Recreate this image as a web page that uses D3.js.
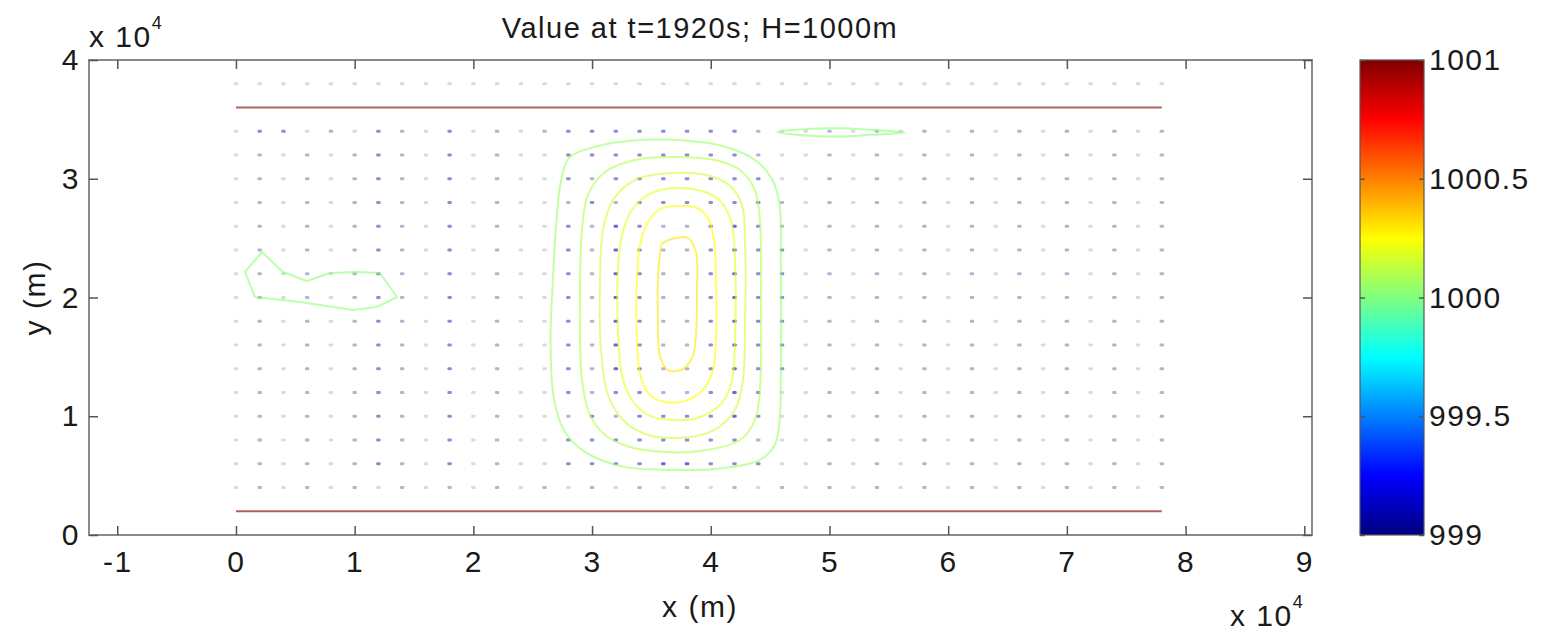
<!DOCTYPE html>
<html>
<head>
<meta charset="utf-8">
<script src="https://cdn.jsdelivr.net/npm/d3@7"></script>
<style>
  body { margin: 0; background: #fff; }
  svg { display: block; }
  text { font-family: "Liberation Sans", Arial, Helvetica, sans-serif; fill: #1a1a1a; letter-spacing: 1.5px; }
</style>
</head>
<body>
<svg id="chart" width="1542" height="632"></svg>
<script>
// ---------- data (lengths in units of 10^4 m) ----------
const titleText = "Value at t=1920s; H=1000m";
const xTicks = [-1, 0, 1, 2, 3, 4, 5, 6, 7, 8, 9];
const yTicks = [0, 1, 2, 3, 4];
const xDomain = [-1.238, 9.065];
const yDomain = [0, 4];

// colour scale (jet) and colourbar ticks
const colorTicks = [999, 999.5, 1000, 1000.5, 1001];
const jetValues = [999, 999.25, 999.75, 1000.25, 1000.75, 1001];
const jetColors = ["#00007f", "#0000ff", "#00ffff", "#ffff00", "#ff0000", "#7f0000"];

// velocity sample points
const gridX = [0, 0.2, 0.4, 0.6, 0.8, 1.0, 1.2, 1.4, 1.6, 1.8, 2.0, 2.2, 2.4, 2.6, 2.8, 3.0, 3.2, 3.4, 3.6, 3.8,
               4.0, 4.2, 4.4, 4.6, 4.8, 5.0, 5.2, 5.4, 5.6, 5.8, 6.0, 6.2, 6.4, 6.6, 6.8, 7.0, 7.2, 7.4, 7.6, 7.8];
const gridY = [3.8, 3.4, 3.2, 3.0, 2.8, 2.6, 2.4, 2.2, 2.0, 1.8, 1.6, 1.4, 1.2, 1.0, 0.8, 0.6, 0.4];
// arrow strength per row (one digit per gridX column, 0 = none .. 4 = strongest)
const arrowLevels = [
  "1111111111111111111111111111111111111111",
  "1331213213121233333333211212121212121212",
  "1212123213121133333333211212121212121212",
  "1212123213121132333333311212121212121212",
  "1212123213121123233333321212121212121212",
  "1212123213121132432234321212121212121212",
  "1212123213121132432234331212121212121212",
  "1212123213121132432234331212121212121212",
  "1212123213121132432234331212121212121212",
  "1212123213121132432234331212121212121212",
  "1212123213121132432234331212121212121212",
  "1212123213121132432234331212121212121212",
  "1212123213121132332234311212121212121212",
  "1212123213121123233334311212121212121212",
  "1212123213121133333333211212121212121212",
  "1212123213121133334433311212121212121212",
  "1212121212121212121212121212121212121212"
];
const arrowColors = ["none", "#d9d9e6", "#b4b4d6", "#8d8dd2", "#6868d2"];

// channel walls
const wallY = [0.2, 3.6];
const wallX = [0, 7.8];
const wallLevel = 1001;

// contour lines: level and closed outline
const contourLevels = [1000.05, 1000.1, 1000.15, 1000.2, 1000.25, 1000.3, 1000.02, 1000.02];
const contourRings = [
  [[3.61,3.33],[4.08,3.28],[4.37,3.16],[4.52,2.99],[4.58,2.78],[4.59,2.32],[4.59,1.31],[4.58,0.97],[4.54,0.76],
   [4.41,0.63],[4.08,0.56],[3.59,0.55],[3.24,0.58],[2.94,0.70],[2.77,0.87],[2.68,1.14],[2.65,1.64],[2.67,2.15],
   [2.70,2.65],[2.74,2.99],[2.81,3.18],[3.07,3.28],[3.32,3.32]],
  [[3.656,3.183],[4.035,3.158],[4.246,3.074],[4.372,2.905],[4.414,2.653],[4.423,1.979],[4.414,1.221],[4.372,0.968],
   [4.246,0.800],[3.909,0.707],[3.614,0.699],[3.319,0.741],[3.109,0.842],[2.982,1.011],[2.915,1.305],[2.898,1.979],
   [2.915,2.568],[2.965,2.863],[3.109,3.057],[3.361,3.158]],
  [[3.673,3.048],[3.993,3.023],[4.162,2.939],[4.263,2.779],[4.288,2.484],[4.288,1.726],[4.271,1.305],[4.204,1.053],
   [4.027,0.884],[3.724,0.817],[3.446,0.851],[3.260,0.968],[3.134,1.179],[3.075,1.558],[3.067,2.147],[3.092,2.568],
   [3.176,2.821],[3.361,2.989]],
  [[3.698,2.922],[3.951,2.888],[4.094,2.796],[4.179,2.611],[4.204,2.316],[4.204,1.642],[4.179,1.305],[4.094,1.112],
   [3.909,0.994],[3.673,0.968],[3.471,1.011],[3.336,1.137],[3.252,1.347],[3.218,1.726],[3.218,2.232],[3.252,2.526],
   [3.336,2.737],[3.488,2.872]],
  [[3.698,2.771],[3.884,2.754],[3.976,2.669],[4.027,2.484],[4.044,2.147],[4.044,1.642],[4.019,1.389],[3.934,1.221],
   [3.783,1.128],[3.614,1.120],[3.488,1.179],[3.412,1.322],[3.378,1.642],[3.378,2.147],[3.404,2.442],[3.471,2.636],
   [3.572,2.745]],
  [[3.589,2.451],[3.673,2.493],[3.808,2.501],[3.875,2.383],[3.884,2.063],[3.875,1.684],[3.842,1.491],[3.766,1.398],
   [3.639,1.389],[3.572,1.507],[3.555,1.811],[3.555,2.147],[3.572,2.358]],
  [[4.56,3.394],[4.75,3.415],[5.09,3.425],[5.34,3.412],[5.64,3.390],[5.34,3.370],[5.09,3.355],[4.75,3.368]],
  [[0.219,2.383],[0.076,2.215],[0.160,2.004],[0.539,1.962],[0.986,1.895],[1.188,1.920],[1.356,2.004],[1.213,2.206],
   [1.019,2.215],[0.792,2.206],[0.598,2.139],[0.396,2.215]]
];
const contourSmooth = [true, true, true, true, true, true, true, false];

// ---------- layout ----------
const svg = d3.select("#chart");
const plot = { left: 89, right: 1312, top: 60, bottom: 535 };
const bar = { left: 1360, right: 1424 };

const x = d3.scaleLinear().domain(xDomain).range([plot.left, plot.right]);
const y = d3.scaleLinear().domain(yDomain).range([plot.bottom, plot.top]);
const jet = d3.scaleLinear().domain(jetValues).range(jetColors).interpolate(d3.interpolateRgb);

// plot background
svg.append("rect")
  .attr("x", plot.left).attr("y", plot.top)
  .attr("width", plot.right - plot.left).attr("height", plot.bottom - plot.top)
  .attr("fill", "#fff");

// velocity arrows
const arrows = [];
gridY.forEach((gy, r) => {
  gridX.forEach((gx, c) => {
    const lvl = +arrowLevels[r][c];
    if (lvl > 0) arrows.push({ gx, gy, lvl });
  });
});
svg.append("g").selectAll("rect").data(arrows).join("rect")
  .attr("x", d => x(d.gx) - 2.2)
  .attr("y", d => y(d.gy) - 1.4)
  .attr("width", 4.4)
  .attr("height", 2.8)
  .attr("rx", 1)
  .attr("fill", d => arrowColors[d.lvl]);

// channel walls
svg.append("g").selectAll("line").data(wallY).join("line")
  .attr("x1", x(wallX[0])).attr("x2", x(wallX[1]))
  .attr("y1", d => y(d)).attr("y2", d => y(d))
  .attr("stroke", jet(wallLevel))
  .attr("stroke-opacity", 0.62)
  .attr("stroke-width", 2.2);

// contour lines
const smoothLine = d3.line().x(d => x(d[0])).y(d => y(d[1])).curve(d3.curveCatmullRomClosed.alpha(0.5));
const polyLine = d3.line().x(d => x(d[0])).y(d => y(d[1])).curve(d3.curveLinearClosed);
svg.append("g").selectAll("path").data(contourRings).join("path")
  .attr("d", (d, i) => (contourSmooth[i] ? smoothLine : polyLine)(d))
  .attr("fill", "none")
  .attr("stroke", (d, i) => jet(contourLevels[i]))
  .attr("stroke-opacity", 0.6)
  .attr("stroke-width", 2)
  .attr("stroke-linejoin", "round");

// frame
svg.append("rect")
  .attr("x", plot.left).attr("y", plot.top)
  .attr("width", plot.right - plot.left).attr("height", plot.bottom - plot.top)
  .attr("fill", "none").attr("stroke", "#8a8a8a").attr("stroke-width", 2);

// axes with inward ticks
const fontSize = 30;
const plain = d => String(d);
function styleAxis(g) {
  g.select(".domain").remove();
  g.selectAll(".tick line").attr("stroke", "#555").attr("stroke-width", 1.5);
  g.selectAll(".tick text").attr("font-size", fontSize).attr("fill", "#1a1a1a");
}
svg.append("g").attr("transform", `translate(0,${plot.bottom})`)
  .call(d3.axisBottom(x).tickValues(xTicks).tickSize(-9).tickPadding(16).tickFormat(plain))
  .call(styleAxis);
svg.append("g").attr("transform", `translate(0,${plot.top})`)
  .call(d3.axisTop(x).tickValues(xTicks).tickSize(-9).tickFormat(""))
  .call(styleAxis);
svg.append("g").attr("transform", `translate(${plot.left},0)`)
  .call(d3.axisLeft(y).tickValues(yTicks).tickSize(-9).tickPadding(9).tickFormat(plain))
  .call(styleAxis);
svg.append("g").attr("transform", `translate(${plot.right},0)`)
  .call(d3.axisRight(y).tickValues(yTicks).tickSize(-9).tickFormat(""))
  .call(styleAxis);

// title and axis labels
svg.append("text").attr("x", 700).attr("y", 38).attr("text-anchor", "middle")
  .attr("font-size", 29).text(titleText);
svg.append("text").attr("x", 700).attr("y", 617).attr("text-anchor", "middle")
  .attr("font-size", fontSize).text("x (m)");
svg.append("text").attr("transform", `translate(45,${y(2)}) rotate(-90)`).attr("text-anchor", "middle")
  .attr("font-size", fontSize).text("y (m)");

// exponent labels
function exponent(xPos, yPos) {
  const t = svg.append("text").attr("x", xPos).attr("y", yPos).attr("font-size", fontSize);
  t.append("tspan").text("x 10");
  t.append("tspan").attr("dy", -18).attr("font-size", 18).text("4");
}
exponent(89, 47);
exponent(1230, 626);

// colourbar
const cb = d3.scaleLinear().domain([colorTicks[0], colorTicks[colorTicks.length - 1]]).range([plot.bottom, plot.top]);
const grad = svg.append("defs").append("linearGradient")
  .attr("id", "jetGrad").attr("x1", 0).attr("x2", 0).attr("y1", 1).attr("y2", 0);
grad.selectAll("stop").data(jetValues).join("stop")
  .attr("offset", d => (d - jetValues[0]) / (jetValues[jetValues.length - 1] - jetValues[0]))
  .attr("stop-color", d => jet(d));
svg.append("rect")
  .attr("x", bar.left).attr("y", plot.top)
  .attr("width", bar.right - bar.left).attr("height", plot.bottom - plot.top)
  .attr("fill", "url(#jetGrad)")
  .attr("stroke", "#555").attr("stroke-width", 1.2);
svg.append("g").attr("transform", `translate(${bar.right},0)`)
  .call(d3.axisRight(cb).tickValues(colorTicks).tickSize(-5).tickPadding(5).tickFormat(plain))
  .call(styleAxis);
svg.append("g").attr("transform", `translate(${bar.left},0)`)
  .call(d3.axisLeft(cb).tickValues(colorTicks).tickSize(-5).tickFormat(""))
  .call(styleAxis);
</script>
</body>
</html>
